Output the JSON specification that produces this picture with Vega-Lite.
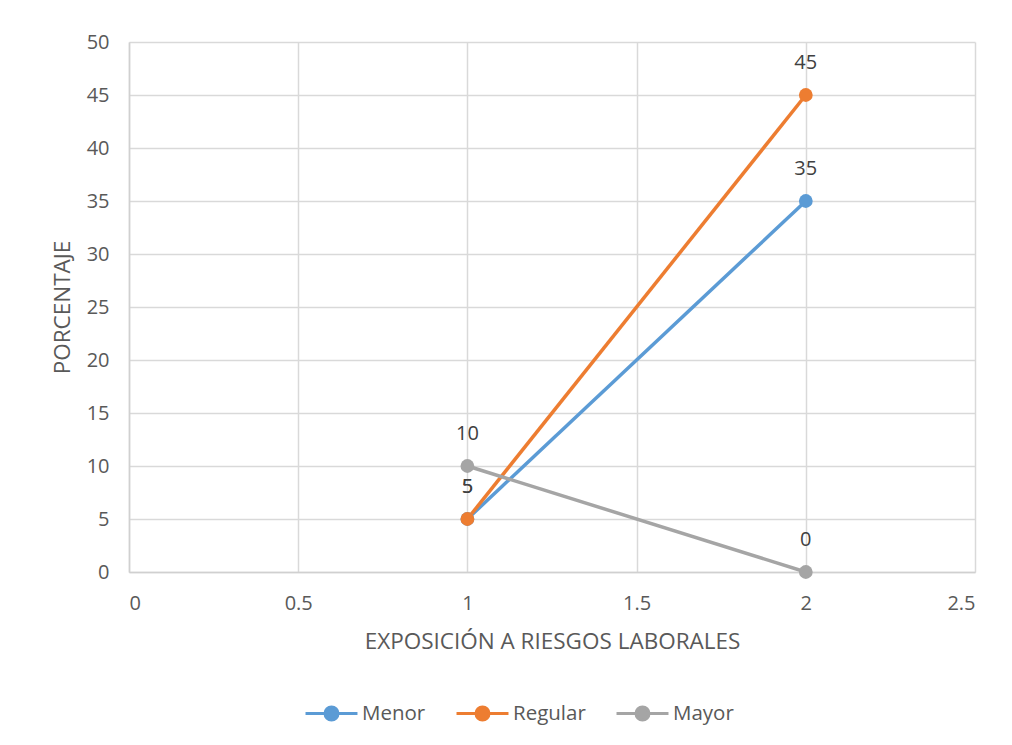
{
  "$schema": "https://vega.github.io/schema/vega-lite/v6.json",
  "autosize": "none",
  "width": 846,
  "height": 530,
  "padding": {"left": 129, "top": 42, "right": 37, "bottom": 173},
  "background": "white",
  "config": {
    "font": "Open Sans",
    "view": {"stroke": null},
    "axis": {
      "grid": true,
      "gridColor": "#d9d9d9",
      "gridWidth": 1.5,
      "domainColor": "#d0d0d0",
      "domainWidth": 1.5,
      "ticks": false,
      "labelColor": "#595959",
      "labelFontSize": 20,
      "labelFont": "Open Sans",
      "titleColor": "#595959",
      "titleFontSize": 22.5,
      "titleFont": "Open Sans",
      "titleFontWeight": "normal"
    }
  },
  "data": {
    "values": [
      {"exposicion": 1, "porcentaje": 5, "nivel": "Menor"},
      {"exposicion": 2, "porcentaje": 35, "nivel": "Menor"},
      {"exposicion": 1, "porcentaje": 5, "nivel": "Regular"},
      {"exposicion": 2, "porcentaje": 45, "nivel": "Regular"},
      {"exposicion": 1, "porcentaje": 10, "nivel": "Mayor"},
      {"exposicion": 2, "porcentaje": 0, "nivel": "Mayor"}
    ]
  },
  "encoding": {
    "x": {
      "field": "exposicion",
      "type": "quantitative",
      "scale": {"domain": [0, 2.5], "nice": false, "zero": true},
      "axis": {
        "values": [0, 0.5, 1, 1.5, 2, 2.5],
        "format": "~g",
        "labelPadding": 21,
        "title": "EXPOSICIÓN A RIESGOS LABORALES",
        "titlePadding": 17
      }
    },
    "y": {
      "field": "porcentaje",
      "type": "quantitative",
      "scale": {"domain": [0, 50], "nice": false},
      "axis": {
        "values": [0, 5, 10, 15, 20, 25, 30, 35, 40, 45, 50],
        "labelPadding": 20,
        "title": "PORCENTAJE",
        "titlePadding": 12
      }
    },
    "color": {
      "field": "nivel",
      "type": "nominal",
      "sort": ["Menor", "Regular", "Mayor"],
      "scale": {
        "domain": ["Menor", "Regular", "Mayor"],
        "range": ["#5B9BD5", "#ED7D31", "#A5A5A5"]
      },
      "legend": {
        "title": null,
        "orient": "none",
        "direction": "horizontal",
        "legendX": 175,
        "legendY": 644,
        "symbolType": "M-1,0L-0.25,0M0.25,0L1,0M-0.25,0A0.25,0.25 0 1,1 0.25,0A0.25,0.25 0 1,1 -0.25,0Z",
        "symbolSize": 2700,
        "symbolStrokeWidth": 3,
        "labelFontSize": 20.5,
        "labelColor": "#595959",
        "labelFont": "Open Sans",
        "columnPadding": 24,
        "labelOffset": 3
      }
    }
  },
  "layer": [
    {
      "mark": {"type": "line", "strokeWidth": 3.5}
    },
    {
      "mark": {"type": "point", "filled": true, "opacity": 1, "size": 190}
    },
    {
      "mark": {"type": "text", "dy": -32, "fontSize": 20, "font": "Open Sans"},
      "encoding": {
        "text": {"field": "porcentaje", "type": "quantitative"},
        "color": {"value": "#404040"}
      }
    }
  ]
}
